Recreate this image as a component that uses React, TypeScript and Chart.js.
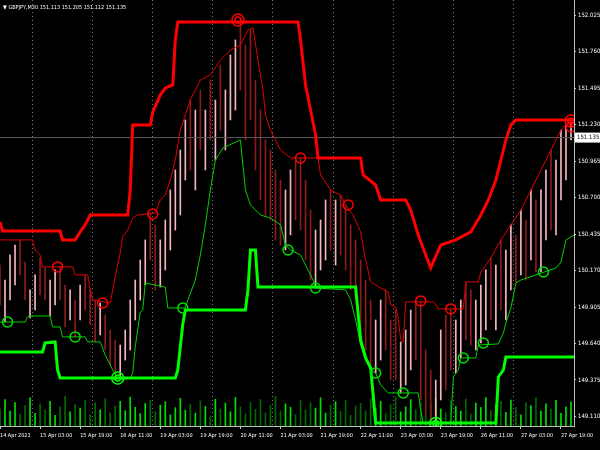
import React, { useEffect, useRef } from "react";
import { Chart, registerables } from "chart.js";
Chart.register(...registerables);

const symbolTitle = "▼ GBPJPY,M30 151.113 151.205 151.112 151.135";
const lastPrice = 151.135;

const timeLabels = ["14 Apr 2021", "15 Apr 03:00", "15 Apr 19:00", "16 Apr 11:00", "19 Apr 03:00", "19 Apr 19:00", "20 Apr 11:00", "21 Apr 03:00", "21 Apr 19:00", "22 Apr 11:00", "23 Apr 03:00", "23 Apr 19:00", "26 Apr 11:00", "27 Apr 03:00", "27 Apr 19:00"];
const timeTickHours = [0, 16, 32, 48, 64, 80, 96, 112, 128, 144, 160, 176, 192, 208, 224];
const daySeparatorHours = [13, 37, 61, 85, 109, 133, 157, 181, 205];
const priceTicks = [152.025, 151.76, 151.495, 151.23, 150.965, 150.7, 150.435, 150.17, 149.905, 149.64, 149.375, 149.11];

const candleHigh = [150.210, 150.101, 150.283, 150.355, 150.392, 150.232, 150.029, 150.138, 150.261, 150.188,
  150.101, 150.174, 150.196, 150.065, 150.029, 149.956, 150.065, 150.138, 150.029, 149.956,
  149.934, 149.847, 149.738, 149.666, 149.629, 149.738, 149.956, 150.101, 150.246, 150.392,
  150.588, 150.501, 150.392, 150.537, 150.755, 150.900, 151.045, 151.263, 151.408, 151.335,
  151.481, 151.335, 151.553, 151.408, 151.662, 151.481, 151.735, 151.844, 151.974, 151.807,
  151.916, 151.553, 151.335, 151.118, 151.045, 150.900, 150.827, 150.755, 150.900, 150.972,
  150.987, 150.827, 150.609, 150.464, 150.537, 150.682, 150.755, 150.682, 150.718, 150.646,
  150.501, 150.392, 150.246, 150.101, 149.956, 149.811, 149.956, 150.029, 149.811, 149.883,
  149.651, 149.738, 149.883, 149.942, 149.949, 149.593, 149.448, 149.375, 149.738, 149.847,
  149.891, 149.811, 149.956, 150.087, 150.029, 149.956, 150.065, 150.174, 150.261, 150.210,
  150.392, 150.319, 150.501, 150.428, 150.609, 150.537, 150.755, 150.682, 150.755, 150.900,
  151.045, 150.972, 151.190, 151.227, 151.248];
const candleLow = [149.920, 149.796, 149.956, 150.065, 150.138, 149.956, 149.825, 149.883, 149.992, 149.956,
  149.840, 149.920, 149.956, 149.760, 149.811, 149.688, 149.811, 149.883, 149.775, 149.651,
  149.702, 149.593, 149.484, 149.433, 149.390, 149.520, 149.593, 149.811, 149.956, 150.065,
  150.246, 150.029, 150.050, 150.174, 150.319, 150.464, 150.573, 150.827, 150.900, 150.755,
  151.045, 150.900, 151.118, 150.972, 151.190, 151.045, 151.263, 151.335, 151.481, 151.118,
  151.263, 150.900, 150.682, 150.573, 150.537, 150.392, 150.355, 150.319, 150.428, 150.537,
  150.464, 150.246, 150.101, 150.043, 150.174, 150.246, 150.319, 150.210, 150.283, 150.174,
  150.029, 149.956, 149.738, 149.593, 149.484, 149.426, 149.520, 149.593, 149.375, 149.375,
  149.281, 149.339, 149.448, 149.520, 149.230, 149.121, 149.048, 149.048, 149.230, 149.303,
  149.448, 149.426, 149.535, 149.666, 149.629, 149.593, 149.644, 149.738, 149.811, 149.738,
  149.883, 149.811, 150.029, 150.079, 150.138, 150.101, 150.246, 150.159, 150.159, 150.392,
  150.464, 150.428, 150.682, 150.827, 151.118];
const candleUp = [0, 1, 1, 1, 0, 0, 1, 1, 0, 0, 1, 1, 0, 0, 1, 0, 1, 0, 0, 0, 1, 0, 0, 0, 1, 1, 1, 1, 1, 1,
  0, 0, 1, 1, 1, 1, 1, 1, 0, 1, 0, 1, 0, 1, 0, 1, 1, 1, 0, 0, 0, 0, 0, 0, 0, 0, 0, 1, 1, 0,
  0, 0, 0, 1, 1, 1, 0, 1, 0, 0, 0, 0, 0, 0, 0, 1, 1, 0, 0, 0, 1, 1, 1, 0, 0, 0, 0, 1, 1, 0,
  0, 1, 1, 0, 0, 1, 1, 1, 0, 1, 0, 1, 1, 0, 1, 0, 1, 0, 1, 1, 0, 1, 1, 1, 1];
const volume = [40, 62, 35, 55, 28, 48, 66, 30, 52, 38, 58, 25, 45, 70, 33, 50, 42, 60, 27, 55,
  38, 64, 31, 47, 58, 36, 68, 44, 29, 53, 61, 34, 49, 57, 26, 43, 65, 37, 51, 30,
  59, 46, 22, 63, 40, 54, 33, 67, 45, 28, 56, 39, 62, 31, 48, 70, 35, 52, 44, 27,
  60, 38, 55, 42, 66, 30, 49, 57, 34, 61, 25, 47, 53, 36, 64, 41, 58, 29, 50, 68,
  33, 45, 62, 38, 56, 27, 52, 65, 40, 31, 59, 46, 35, 63, 28, 54, 43, 67, 37, 50,
  58, 32, 61, 44, 26, 55, 48, 66, 35, 52, 40, 60, 30, 45, 57];

const outerHighX = [0, 1, 24, 25, 30, 32, 34, 36, 51, 52, 53, 60, 61, 64, 66, 69, 70, 71, 119, 120, 122, 124, 126, 127, 144, 145, 150, 152, 162, 164, 167, 170, 172, 173, 176, 182, 188, 192, 195, 198, 200, 202, 204, 206, 229.2];
const outerHighY = [150.522, 150.457, 150.457, 150.392, 150.392, 150.450, 150.501, 150.573, 150.573, 150.755, 151.227, 151.227, 151.321, 151.444, 151.495, 151.517, 151.844, 151.974, 151.974, 151.844, 151.517, 151.335, 151.154, 150.987, 150.987, 150.864, 150.791, 150.682, 150.682, 150.609, 150.428, 150.283, 150.188, 150.232, 150.355, 150.392, 150.450, 150.573, 150.682, 150.827, 150.972, 151.118, 151.227, 151.263, 151.263];

const innerHighX = [0, 13, 14, 16, 17, 29, 30, 35, 36, 37, 44, 46, 48, 49, 51, 53, 55, 62, 64, 66, 68, 70, 72, 74, 76, 80, 84, 88, 92, 96, 99, 101, 103, 105, 106, 108, 112, 116, 127, 128, 132, 136, 138, 141, 144, 146, 148, 152, 155, 156, 158, 159, 160, 161, 162, 173, 174, 175, 185, 186, 191, 192, 196, 200, 204, 208, 212, 216, 220, 224, 226, 229.2];
const innerHighY = [150.392, 150.392, 150.319, 150.283, 150.196, 150.196, 150.138, 150.138, 150.029, 149.956, 149.934, 150.123, 150.297, 150.413, 150.464, 150.551, 150.573, 150.588, 150.682, 150.718, 150.827, 150.972, 151.190, 151.299, 151.408, 151.553, 151.590, 151.698, 151.771, 151.807, 151.916, 151.931, 151.698, 151.481, 151.299, 151.190, 151.045, 150.987, 150.987, 150.864, 150.755, 150.718, 150.646, 150.573, 150.450, 150.246, 150.087, 150.043, 150.014, 149.920, 149.905, 149.825, 149.666, 149.651, 149.942, 149.942, 149.920, 149.891, 149.891, 150.087, 150.087, 150.159, 150.261, 150.392, 150.501, 150.609, 150.755, 150.900, 151.045, 151.190, 151.227, 151.227];

const innerLowX = [0, 10, 11, 12, 20, 21, 24, 25, 34, 35, 40, 42, 45, 47, 52, 53, 54, 56, 57, 58, 66, 67, 74, 75, 78, 80, 82, 84, 86, 89, 96, 98, 100, 104, 108, 112, 114, 116, 120, 122, 125, 126, 138, 140, 142, 144, 146, 148, 150, 152, 155, 167, 168, 169, 180, 181, 183, 184, 190, 191, 199, 201, 202, 204, 206, 208, 214, 222, 224, 226, 229.2];
const innerLowY = [149.796, 149.796, 149.833, 149.840, 149.840, 149.760, 149.760, 149.688, 149.688, 149.652, 149.652, 149.557, 149.448, 149.390, 149.390, 149.426, 149.615, 149.869, 149.883, 150.079, 150.050, 149.898, 149.898, 149.956, 150.101, 150.283, 150.501, 150.755, 150.972, 151.060, 151.118, 150.755, 150.646, 150.573, 150.551, 150.501, 150.355, 150.319, 150.283, 150.210, 150.101, 150.043, 150.029, 149.956, 149.811, 149.629, 149.520, 149.448, 149.426, 149.339, 149.281, 149.281, 149.157, 149.063, 149.063, 149.397, 149.448, 149.535, 149.535, 149.629, 149.637, 149.716, 149.789, 149.898, 150.079, 150.101, 150.138, 150.188, 150.232, 150.392, 150.428];

const outerLowX = [0, 17, 18, 22, 23, 24, 70, 71, 72, 73, 74, 98, 99, 100, 102, 103, 142, 144, 146, 148, 149, 150, 198, 199, 201, 202, 229.2];
const outerLowY = [149.578, 149.578, 149.644, 149.651, 149.448, 149.390, 149.390, 149.448, 149.615, 149.782, 149.883, 149.883, 150.029, 150.319, 150.319, 150.050, 150.050, 149.666, 149.535, 149.463, 149.266, 149.063, 149.063, 149.397, 149.448, 149.542, 149.542];

const redMarkX = [23, 41, 61, 120, 139, 168, 180, 228];
const redMarkY = [150.196, 149.934, 150.580, 150.987, 150.646, 149.949, 149.891, 151.212];
const redDoubleX = [95, 228];
const redDoubleY = [151.989, 151.255];
const greenMarkX = [3, 30, 73, 115, 126, 150, 161, 185, 193, 217];
const greenMarkY = [149.796, 149.688, 149.898, 150.319, 150.043, 149.426, 149.281, 149.535, 149.644, 150.159];
const greenDoubleX = [47, 174];
const greenDoubleY = [149.390, 149.060];

const FONT = "'DejaVu Sans Condensed', 'Liberation Sans Narrow', 'DejaVu Sans', sans-serif";

export default function App() {
  const ref = useRef<HTMLCanvasElement>(null);
  useEffect(() => {
    const canvas = ref.current;
    if (!canvas) return;
    const pts = (xs: number[], ys: number[]) => xs.map((x, i) => ({ x, y: ys[i] }));
    const candleX = candleHigh.map((_, i) => i * 2);
    const markerSet = (xs: number[], ys: number[], color: string, r: number) => ({
      type: "scatter" as const,
      data: pts(xs, ys),
      pointStyle: "circle",
      pointRadius: r,
      pointBorderWidth: 1.5,
      pointBackgroundColor: "rgba(0,0,0,0)",
      pointBorderColor: color,
      showLine: false,
      yAxisID: "y",
    });
    const lineSet = (xs: number[], ys: number[], color: string, w: number) => ({
      type: "line" as const,
      data: pts(xs, ys),
      borderColor: color,
      borderWidth: w,
      pointRadius: 0,
      tension: 0,
      fill: false,
      yAxisID: "y",
    });

    const bgPlugin = {
      id: "bg",
      beforeDraw(c: any) {
        const ctx = c.ctx;
        ctx.save();
        ctx.fillStyle = "#000000";
        ctx.fillRect(0, 0, c.width, c.height);
        ctx.restore();
      },
    };
    const textPlugin = {
      id: "texts",
      afterDraw(c: any) {
        const ctx = c.ctx;
        const ys = c.scales.y;
        ctx.save();
        ctx.font = `5.5px ${FONT}`;
        ctx.fillStyle = "#ffffff";
        ctx.textBaseline = "middle";
        ctx.textAlign = "left";
        ctx.fillText(symbolTitle, 3, 8);
        const py = ys.getPixelForValue(lastPrice);
        ctx.fillStyle = "#ffffff";
        ctx.fillRect(ys.left + 1, py - 5, 25, 10);
        ctx.fillStyle = "#000000";
        ctx.font = `6px ${FONT}`;
        ctx.fillText(lastPrice.toFixed(3), ys.left + 3, py);
        ctx.restore();
      },
    };

    const chart = new Chart(canvas, {
      type: "bar",
      data: {
        datasets: [
          markerSet(redDoubleX, redDoubleY, "#ff0000", 6),
          markerSet(redDoubleX, redDoubleY, "#ff0000", 3),
          markerSet(greenDoubleX, greenDoubleY, "#00ff00", 6),
          markerSet(greenDoubleX, greenDoubleY, "#00ff00", 3),
          markerSet(redMarkX, redMarkY, "#ff0000", 5),
          markerSet(greenMarkX, greenMarkY, "#00e000", 5),
          lineSet(outerHighX, outerHighY, "#ff0000", 3),
          lineSet(outerLowX, outerLowY, "#00ff00", 3),
          lineSet(innerHighX, innerHighY, "#e00000", 1),
          lineSet(innerLowX, innerLowY, "#00d000", 1),
          {
            type: "line" as const,
            data: [{ x: 0, y: lastPrice }, { x: 229.2, y: lastPrice }],
            borderColor: "#5a5a5a",
            borderWidth: 1,
            pointRadius: 0,
            yAxisID: "y",
          },
          {
            type: "bar" as const,
            data: candleX.map((x, i) => ({ x, y: [candleLow[i], candleHigh[i]] })),
            backgroundColor: candleUp.map((u) => (u ? "#f4b6be" : "#8c1c1c")),
            borderWidth: 0,
            barThickness: 1,
            grouped: false,
            yAxisID: "y",
          },
          {
            type: "bar" as const,
            data: candleX.map((x, i) => ({ x, y: volume[i] })),
            backgroundColor: candleUp.map((u) => (u ? "#00e000" : "#006a00")),
            borderWidth: 0,
            barThickness: 1,
            grouped: false,
            yAxisID: "yVol",
          },
        ] as any,
      },
      options: {
        animation: false,
        responsive: false,
        layout: { padding: 0, autoPadding: false },
        plugins: { legend: { display: false }, tooltip: { enabled: false }, title: { display: false } },
        scales: {
          x: {
            type: "linear",
            position: "bottom",
            min: 0,
            max: 229.2,
            offset: false,
            grid: { display: true, drawOnChartArea: false, drawTicks: true, tickLength: 3, color: "#c0c0c0", offset: false },
            border: { display: true, color: "#c0c0c0" },
            ticks: {
              color: "#ffffff",
              font: { size: 5.5, family: FONT },
              maxRotation: 0,
              autoSkip: false,
              align: "start",
              padding: 3,
              callback: (_v: any, i: number) => timeLabels[i],
            },
            afterBuildTicks: (s: any) => {
              s.ticks = timeTickHours.map((v) => ({ value: v }));
            },
            afterFit: (s: any) => {
              s.height = 24;
              s.paddingLeft = 0;
              s.paddingRight = 0;
            },
          },
          xSep: {
            type: "linear",
            position: "bottom",
            min: 0,
            max: 229.2,
            offset: false,
            ticks: { display: false },
            grid: { color: "#7a7a7a", drawTicks: false, drawOnChartArea: true, lineWidth: 1, offset: false },
            border: { display: false, dash: [1, 3] },
            afterBuildTicks: (s: any) => {
              s.ticks = daySeparatorHours.map((v) => ({ value: v }));
            },
            afterFit: (s: any) => {
              s.height = 0;
            },
          },
          y: {
            type: "linear",
            position: "right",
            min: 149.041,
            max: 152.134,
            beginAtZero: false,
            grid: { drawOnChartArea: false, color: "#c0c0c0", tickLength: 2 },
            border: { display: true, color: "#c0c0c0" },
            ticks: {
              color: "#ffffff",
              font: { size: 6, family: FONT },
              padding: 2,
              callback: (v: any) => Number(v).toFixed(3),
            },
            afterBuildTicks: (s: any) => {
              s.ticks = priceTicks.map((v) => ({ value: v }));
            },
            afterFit: (s: any) => {
              s.width = 26;
              s.paddingTop = 0;
              s.paddingBottom = 0;
            },
          },
          yVol: { type: "linear", display: false, min: 0, max: 1000, beginAtZero: true },
        },
      } as any,
      plugins: [bgPlugin, textPlugin],
    });
    return () => chart.destroy();
  }, []);
  return (
    <div style={{ position: "fixed", left: 0, top: 0, width: 600, height: 450, background: "#000" }}>
      <canvas ref={ref} width={600} height={450} style={{ display: "block" }} />
    </div>
  );
}
